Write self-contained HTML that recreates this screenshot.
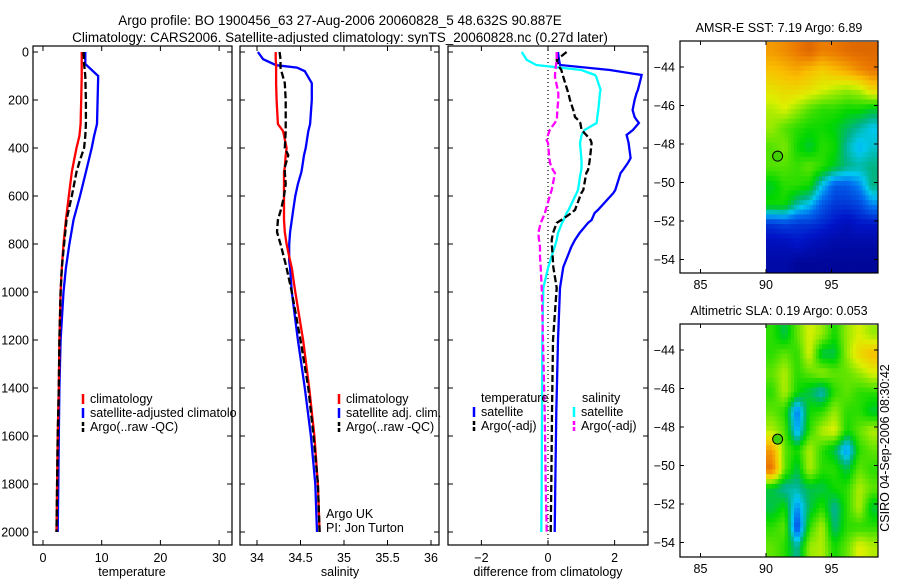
<!DOCTYPE html>
<html><head><meta charset="utf-8"><style>
html,body{margin:0;padding:0;background:#fff;}
svg{display:block;font-family:"Liberation Sans",sans-serif;}
</style></head><body>
<svg id="fig" width="900" height="580" viewBox="0 0 900 580" xmlns="http://www.w3.org/2000/svg">
<text x="340" y="25" font-size="13.5" text-anchor="middle">Argo profile: BO 1900456_63 27-Aug-2006 20060828_5 48.632S 90.887E</text>
<text x="340" y="42" font-size="13.5" text-anchor="middle">Climatology: CARS2006. Satellite-adjusted climatology: synTS_20060828.nc (0.27d later)</text>
<g id="g1"></g>
<g id="g2"></g>
<g id="g3"></g>
<g id="g4"></g>
<g id="g5"></g>
</svg>
<script>
// ---- data ----
const depths = [0,50,100,200,300,350,400,450,500,600,700,800,900,1000,1200,1400,1600,1800,2000];
const tempClim = [6.6,6.6,6.6,6.5,6.4,6.2,5.7,5.3,4.9,4.4,3.9,3.5,3.2,3.0,2.8,2.7,2.5,2.4,2.3];
const tempSat  = [7.2,7.2,9.4,9.3,9.2,8.7,8.3,7.8,7.3,6.3,5.2,4.5,3.9,3.5,3.0,2.8,2.7,2.6,2.5];
const tempArgo = [6.9,7.0,7.2,7.3,7.3,7.2,7.0,6.3,5.7,4.9,4.0,3.6,3.2,3.0,2.8,2.7,2.5,2.4,2.3];
const salDepths = [0,30,55,65,80,130,200,300,330,400,430,480,500,550,600,650,700,750,800,870,900,950,1000,1200,1400,1600,1800,2000];
const salClim = [34.215,34.215,34.22,34.22,34.22,34.22,34.225,34.24,34.30,34.34,34.33,34.32,34.31,34.31,34.31,34.31,34.31,34.32,34.34,34.38,34.40,34.42,34.44,34.53,34.60,34.66,34.70,34.72];
const salSat  = [34.01,34.07,34.22,34.46,34.55,34.63,34.63,34.61,34.59,34.56,34.54,34.52,34.51,34.47,34.44,34.42,34.40,34.38,34.37,34.37,34.38,34.39,34.40,34.47,34.55,34.62,34.67,34.69];
const salArgo = [34.26,34.27,34.27,34.27,34.28,34.32,34.33,34.33,34.33,34.32,34.36,34.32,34.32,34.33,34.31,34.28,34.24,34.23,34.27,34.32,34.34,34.37,34.40,34.50,34.59,34.65,34.70,34.72];
const diffDepths = [0,33,54,75,96,104,158,171,200,242,271,283,296,325,346,367,379,442,462,492,504,575,588,658,671,700,712,754,783,812,854,896,983,1200,1500,1800,2000];
const diffTempSat  = [0.30,0.33,0.36,1.86,2.81,2.80,2.70,2.66,2.60,2.54,2.60,2.66,2.73,2.55,2.36,2.40,2.42,2.48,2.40,2.25,2.18,2.02,1.96,1.50,1.40,1.31,1.20,0.95,0.81,0.70,0.58,0.46,0.36,0.30,0.25,0.22,0.20];
const diffSalSat   = [-0.79,-0.64,-0.35,1.00,1.41,1.45,1.58,1.56,1.54,1.51,1.48,1.47,1.46,1.10,1.01,0.98,0.96,1.00,1.01,1.00,0.98,0.90,0.86,0.62,0.56,0.47,0.42,0.30,0.26,0.20,0.10,0.01,-0.14,-0.17,-0.18,-0.19,-0.20];
const diffTempArgo = [0.56,0.26,0.30,0.40,0.44,0.46,0.58,0.61,0.66,0.76,0.81,0.90,0.97,1.01,1.15,1.28,1.31,1.26,1.24,1.20,1.15,1.06,1.00,0.81,0.70,0.40,0.26,0.15,0.11,0.12,0.14,0.16,0.26,0.15,0.12,0.10,0.08];
const diffSalArgo  = [0.26,0.26,0.24,0.22,0.21,0.21,0.29,0.31,0.31,0.28,0.27,0.26,0.20,0.05,0.00,-0.04,0.00,0.04,0.06,0.15,0.21,0.11,0.08,-0.07,-0.09,-0.18,-0.22,-0.29,-0.27,-0.24,-0.24,-0.22,-0.19,-0.15,-0.10,-0.07,-0.04];
const tempTicks = [0,10,20,30];
const salTicks = [34,34.5,35,35.5,36];
const salTickLabels = ["34","34.5","35","35.5","36"];
const diffTicks = [-2,0,2];
const depthTicks = [0,200,400,600,800,1000,1200,1400,1600,1800,2000];
const lonTicks = [85,90,95];
const latTicks = [-44,-46,-48,-50,-52,-54];
const sstGrid = [
[0.80,0.82,0.85,0.88,0.84,0.85,0.87,0.88,0.88],
[0.74,0.76,0.78,0.75,0.72,0.75,0.78,0.82,0.85],
[0.68,0.70,0.70,0.68,0.65,0.62,0.60,0.62,0.70],
[0.62,0.65,0.60,0.55,0.52,0.52,0.50,0.50,0.47],
[0.60,0.55,0.52,0.50,0.50,0.48,0.44,0.40,0.36],
[0.55,0.58,0.50,0.46,0.52,0.50,0.40,0.34,0.38],
[0.55,0.55,0.53,0.56,0.52,0.47,0.42,0.40,0.42],
[0.47,0.52,0.52,0.50,0.36,0.25,0.25,0.30,0.42],
[0.50,0.50,0.40,0.35,0.25,0.20,0.20,0.22,0.30],
[0.20,0.22,0.20,0.20,0.18,0.15,0.12,0.15,0.15],
[0.12,0.12,0.15,0.12,0.10,0.08,0.08,0.08,0.08],
[0.08,0.08,0.05,0.05,0.05,0.05,0.05,0.05,0.05]];
const slaGrid = [
[0.52,0.45,0.56,0.65,0.60,0.50,0.60,0.65,0.60],
[0.52,0.56,0.52,0.65,0.45,0.45,0.60,0.70,0.75],
[0.56,0.62,0.52,0.56,0.60,0.56,0.56,0.60,0.65],
[0.52,0.62,0.50,0.45,0.38,0.52,0.56,0.52,0.52],
[0.56,0.52,0.28,0.50,0.52,0.60,0.52,0.52,0.46],
[0.62,0.55,0.32,0.52,0.62,0.66,0.50,0.56,0.62],
[0.80,0.56,0.50,0.62,0.52,0.45,0.30,0.52,0.56],
[0.86,0.56,0.45,0.62,0.52,0.52,0.45,0.56,0.52],
[0.46,0.40,0.40,0.45,0.45,0.50,0.52,0.62,0.56],
[0.45,0.50,0.30,0.45,0.52,0.40,0.52,0.62,0.46],
[0.52,0.56,0.22,0.52,0.62,0.42,0.52,0.52,0.52],
[0.56,0.52,0.40,0.60,0.62,0.50,0.56,0.66,0.62]];
const argoLon = 90.887, argoLat = -48.632;

const NS = "http://www.w3.org/2000/svg";
function mk(parent, tag, attrs, txt){ const e=document.createElementNS(NS,tag); for(const k in attrs) e.setAttribute(k,attrs[k]); if(txt!==undefined) e.textContent=txt; parent.appendChild(e); return e; }
const yD = d => 52 + d*0.24;

function frame(g, x0, x1, y0, y1, xs, xticks, xlabels, withDepthLabels){
  for(const t of xticks){ const x=xs(t);
    mk(g,'line',{x1:x,x2:x,y1:y0,y2:y0+5,stroke:'#000','stroke-width':1});
    mk(g,'line',{x1:x,x2:x,y1:y1,y2:y1-5,stroke:'#000','stroke-width':1});
  }
  xticks.forEach((t,i)=>{ const e=mk(g,'text',{x:xs(t),y:y1+17,'font-size':12.5,'text-anchor':'middle'},xlabels[i]);
      });
  for(const d of depthTicks){ const y=yD(d);
    mk(g,'line',{x1:x0,x2:x0+5,y1:y,y2:y,stroke:'#000','stroke-width':1});
    mk(g,'line',{x1:x1,x2:x1-5,y1:y,y2:y,stroke:'#000','stroke-width':1});
    if(withDepthLabels){ const e=mk(g,'text',{x:x0-4,y:y+4.5,'font-size':12.5,'text-anchor':'end'},String(d));
        }
  }
}
function border(g,x0,x1,y0,y1){ const r=mk(g,'rect',{x:x0,y:y0,width:x1-x0,height:y1-y0,fill:'none',stroke:'#000','stroke-width':1.2});
    }
function line(g, xs, vals, ds, color, dash, name){
  const pts = vals.map((v,i)=>xs(v).toFixed(1)+','+yD(ds[i]).toFixed(1)).join(' ');
  const p = mk(g,'polyline',{points:pts,fill:'none',stroke:color,'stroke-width':2.3,'stroke-dasharray':dash||'none'});
  
  
}
function legend(g, x, y, color, dash, label, name){
  mk(g,'line',{x1:x,x2:x,y1:y-9,y2:y+1,stroke:color,'stroke-width':2.5,'stroke-dasharray':dash||'none'});
  const t=mk(g,'text',{x:x+7,y:y,'font-size':12.5},label);
  
  
}
function txt(g,x,y,s,name,anchor){ const t=mk(g,'text',{x:x,y:y,'font-size':12.5,'text-anchor':anchor||'start'},s);
    return t; }

// Panel 1 temperature
const g1=document.getElementById('g1');
const xT = v => 43 + v*5.87;
const y0=46, y1=545;
frame(g1,33,232,y0,y1,xT,tempTicks,tempTicks.map(String),true);
mk(g1,'clipPath',{id:'c1'}).appendChild(document.createElementNS(NS,'rect'));
const c1 = document.querySelector('#c1 rect'); c1.setAttribute('x',33);c1.setAttribute('y',46);c1.setAttribute('width',199);c1.setAttribute('height',499);
const p1 = mk(g1,'g',{'clip-path':'url(#c1)'});
line(p1,xT,tempSat,depths,'#0000ff',null,'temp-satellite-line');
line(p1,xT,tempClim,depths,'#ff0000',null,'temp-climatology-line');
line(p1,xT,tempArgo,depths,'#000000','7,3','temp-argo-line');
legend(g1,83,403,'#ff0000',null,'climatology','legend-climatology');
legend(g1,83,417,'#0000ff',null,'satellite-adjusted climatology','legend-satellite-adjusted');
legend(g1,83,431,'#000000','4,2','Argo(..raw -QC)','legend-argo');
txt(g1,132,576,'temperature','x-axis-title-temperature','middle');

// Panel 2 salinity
const g2=document.getElementById('g2');
mk(g2,'rect',{x:237,y:44,width:205,height:503,fill:'#fff'});
const xS = v => 257 + (v-34)*87;
frame(g2,240,439,y0,y1,xS,salTicks,salTickLabels,false);
line(g2,xS,salSat,salDepths,'#0000ff',null,'sal-satellite-line');
line(g2,xS,salClim,salDepths,'#ff0000',null,'sal-climatology-line');
line(g2,xS,salArgo,salDepths,'#000000','7,3','sal-argo-line');
legend(g2,339,403,'#ff0000',null,'climatology','legend-sal-climatology');
legend(g2,339,417,'#0000ff',null,'satellite adj. clim.','legend-sal-satellite');
legend(g2,339,431,'#000000','4,2','Argo(..raw -QC)','legend-sal-argo');
txt(g2,326,518,'Argo UK','argo-uk-label');
txt(g2,326,532,'PI: Jon Turton','pi-label');
txt(g2,340,576,'salinity','x-axis-title-salinity','middle');

// Panel 3 difference
const g3=document.getElementById('g3');
const xDf = v => 548 + v*33.3;
frame(g3,448,648,y0,y1,xDf,diffTicks,diffTicks.map(v=>v<0?'\u2212'+(-v):String(v)),false);
mk(g3,'line',{x1:xDf(0),x2:xDf(0),y1:y0,y2:y1,stroke:'#000','stroke-width':1.2,'stroke-dasharray':'1,3'});
line(g3,xDf,diffTempSat,diffDepths,'#0000ff',null,'diff-temp-satellite-line');
line(g3,xDf,diffSalSat,diffDepths,'#00ffff',null,'diff-sal-satellite-line');
line(g3,xDf,diffTempArgo,diffDepths,'#000000','7,3','diff-temp-argo-line');
line(g3,xDf,diffSalArgo,diffDepths,'#ff00ff','7,3','diff-sal-argo-line');
txt(g3,481,402,'temperature','legend-temperature-heading');
txt(g3,582,402,'salinity','legend-salinity-heading');
legend(g3,474,416,'#0000ff',null,'satellite','legend-diff-temp-satellite');
legend(g3,474,430,'#000000','4,2','Argo(-adj)','legend-diff-temp-argo');
legend(g3,574,416,'#00ffff',null,'satellite','legend-diff-sal-satellite');
legend(g3,574,430,'#ff00ff','4,2','Argo(-adj)','legend-diff-sal-argo');
txt(g3,548,576,'difference from climatology','x-axis-title-difference','middle');
border(g1,33,232,y0,y1); border(g2,240,439,y0,y1); border(g3,448,648,y0,y1);

// Maps
const cmapStops = [[0,[0,0,130]],[0.15,[0,20,200]],[0.28,[0,110,240]],[0.36,[0,200,240]],[0.42,[0,180,130]],[0.49,[0,215,0]],[0.57,[110,230,0]],[0.65,[220,240,0]],[0.75,[250,190,0]],[0.85,[235,120,0]],[1,[170,40,0]]];
function cmap(v){
  v=Math.max(0,Math.min(1,v));
  for(let i=1;i<cmapStops.length;i++){
    const [a,ca]=cmapStops[i-1],[b,cb]=cmapStops[i];
    if(v<=b){ const t=(v-a)/(b-a);
      return `rgb(${Math.round(ca[0]+t*(cb[0]-ca[0]))},${Math.round(ca[1]+t*(cb[1]-ca[1]))},${Math.round(ca[2]+t*(cb[2]-ca[2]))})`; }
  }
  return 'rgb(170,40,0)';
}
function sample(grid, fi, fj){
  const rows=grid.length, cols=grid[0].length;
  fi=Math.max(0,Math.min(rows-1,fi)); fj=Math.max(0,Math.min(cols-1,fj));
  const i0=Math.floor(fi), j0=Math.floor(fj), i1=Math.min(rows-1,i0+1), j1=Math.min(cols-1,j0+1);
  const ti=fi-i0, tj=fj-j0;
  return (grid[i0][j0]*(1-tj)+grid[i0][j1]*tj)*(1-ti)+(grid[i1][j0]*(1-tj)+grid[i1][j1]*tj)*ti;
}
function map(g, top, bottom, grid, title, name){
  const x0=680,x1=878;
  const lonX = lon => 766 + (lon-90)*13.1;
  const latY = lat => top + 26 + (-44-lat)*19.25;
  const dataTop = top+1, dataBot = bottom-1, dataL = 766, dataR = x1;
  const rows = grid.length, cols = grid[0].length;
  const sub=4;
  const cw=(dataR-dataL)/(cols*sub), ch=(dataBot-dataTop)/(rows*sub);
  for(let i=0;i<rows*sub;i++) for(let j=0;j<cols*sub;j++){
    const v = sample(grid,(i+0.5)/sub-0.5,(j+0.5)/sub-0.5);
    const r=mk(g,'rect',{x:(dataL+j*cw).toFixed(2),y:(dataTop+i*ch).toFixed(2),width:(cw+0.5).toFixed(2),height:(ch+0.5).toFixed(2),fill:cmap(v)});
    
    
  }
  for(const lon of lonTicks){ const x=lonX(lon);
    mk(g,'line',{x1:x,x2:x,y1:top,y2:top+4,stroke:'#000'}); mk(g,'line',{x1:x,x2:x,y1:bottom,y2:bottom-4,stroke:'#000'});
    txt(g,x,bottom+16,String(lon),'lon-tick-label','middle'); }
  for(const lat of latTicks){ const y=latY(lat);
    mk(g,'line',{x1:x0,x2:x0+4,y1:y,y2:y,stroke:'#000'}); mk(g,'line',{x1:x1,x2:x1-4,y1:y,y2:y,stroke:'#000'});
    txt(g,x0-5,y+4.5,'\u2212'+(-lat),'lat-tick-label','end'); }
  const c=mk(g,'circle',{cx:lonX(argoLon),cy:latY(argoLat),r:5,fill:'#40d000',stroke:'#000','stroke-width':1});
   
  border(g,x0,x1,top,bottom);
  txt(g,779,top-9,title,name,'middle');
}
map(document.getElementById('g4'),41,273,sstGrid,'AMSR-E SST: 7.19 Argo: 6.89','sst-map-title');
map(document.getElementById('g5'),324,557,slaGrid,'Altimetric SLA: 0.19 Argo: 0.053','sla-map-title');
const st=txt(document.getElementById('g5'),0,0,'CSIRO 04-Sep-2006 08:30:42','timestamp-label','middle');
st.setAttribute('transform','translate(889,448) rotate(-90)');
</script>
</body></html>
